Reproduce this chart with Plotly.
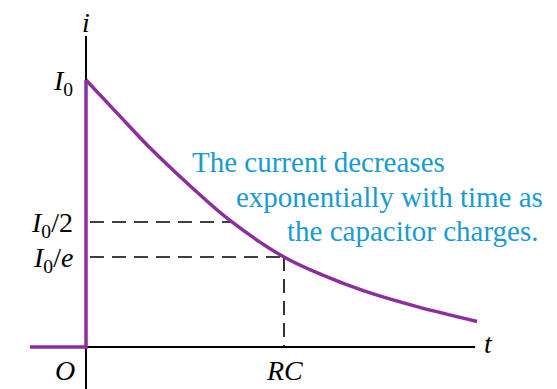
import plotly.graph_objects as go

# Data (units: t in RC, i in I0, as drawn)
t_curve = [0.0, 0.157, 0.323, 0.525, 0.727, 1.0, 1.202, 1.404, 1.672, 1.975]
i_curve = [1.0, 0.876, 0.746, 0.604, 0.474, 0.337, 0.267, 0.210, 0.151, 0.0955]
t_before = [-0.283, 0.0, 0.0]
i_before = [0.0, 0.0, 1.0]
level_half = 0.468
level_e = 0.337
t_half = 0.738
t_rc = 1.0
t_axis_end = 1.965
i_axis_top = 1.165
y_ticks = [1.0, level_half, level_e]
y_labels = ["<i>I</i><sub>0</sub>", "<i>I</i><sub>0</sub>/2", "<i>I</i><sub>0</sub>/<i>e</i>"]

W, H = 557, 389
x0px, y0px = 86, 347
sx, sy = 198.0, 267.0
xr = [(0 - x0px) / sx, (W - x0px) / sx]
yr = [(y0px - H) / sy, (y0px - 0) / sy]

purple = "#8B2F9C"
blue = "#1A9BCF"
serif = "Liberation Serif, DejaVu Serif, Times New Roman, serif"

fig = go.Figure()
fig.add_trace(go.Scatter(x=t_before, y=i_before, mode="lines",
                         line=dict(color=purple, width=3.5), hoverinfo="skip"))
fig.add_trace(go.Scatter(x=t_curve, y=i_curve, mode="lines",
                         line=dict(color=purple, width=3.5, shape="spline", smoothing=1.0),
                         hoverinfo="skip"))

# axes lines
fig.add_shape(type="line", x0=0, x1=0, y0=yr[0], y1=i_axis_top,
              line=dict(color="black", width=2), layer="below")
fig.add_shape(type="line", x0=0, x1=t_axis_end, y0=0, y1=0,
              line=dict(color="black", width=2), layer="below")
# dashed guides
dash = "14px,8px"
fig.add_shape(type="line", x0=0.02, x1=t_half, y0=level_half, y1=level_half,
              line=dict(color="black", width=1.6, dash=dash), layer="below")
fig.add_shape(type="line", x0=0.02, x1=t_rc, y0=level_e, y1=level_e,
              line=dict(color="black", width=1.6, dash=dash), layer="below")
fig.add_shape(type="line", x0=t_rc, x1=t_rc, y0=level_e, y1=0,
              line=dict(color="black", width=1.6, dash=dash), layer="below")

lab_font = dict(family=serif, size=28, color="black")
for yv, lab in zip(y_ticks, y_labels):
    fig.add_annotation(x=0, y=yv, text=lab, showarrow=False, xanchor="right",
                       yanchor="middle", xshift=-11, yshift=-2, font=lab_font)
fig.add_annotation(x=0, y=(y0px - 22) / sy, text="<i>i</i>", showarrow=False,
                   xanchor="center", yanchor="middle", font=lab_font)
fig.add_annotation(x=0, y=0, text="<i>O</i>", showarrow=False, xanchor="right",
                   yanchor="top", xshift=-9, yshift=-6, font=lab_font)
fig.add_annotation(x=t_rc, y=0, text="<i>RC</i>", showarrow=False, xanchor="center",
                   yanchor="top", yshift=-6, font=lab_font)
fig.add_annotation(x=t_axis_end, y=0, text="<i>t</i>", showarrow=False,
                   xanchor="left", yanchor="middle", xshift=7, yshift=4, font=lab_font)

# description text lines
txt_font = dict(family=serif, size=29, color=blue)
lines = ["The current decreases", "exponentially with time as", "the capacitor charges."]
lx = [190, 234, 285]
ly = [162, 197, 231]
for s, xp, yp in zip(lines, lx, ly):
    fig.add_annotation(xref="paper", yref="paper", x=xp / W, y=1 - yp / H, text=s,
                       showarrow=False, xanchor="left", yanchor="middle", font=txt_font)

fig.update_layout(width=W, height=H, margin=dict(l=0, r=0, t=0, b=0),
                  paper_bgcolor="white", plot_bgcolor="white", showlegend=False,
                  xaxis=dict(range=xr, visible=False, fixedrange=True),
                  yaxis=dict(range=yr, visible=False, fixedrange=True))
fig.write_html("out.html", config={"displayModeBar": False},
               post_script="document.body.style.margin='0';document.body.style.overflow='hidden';")
